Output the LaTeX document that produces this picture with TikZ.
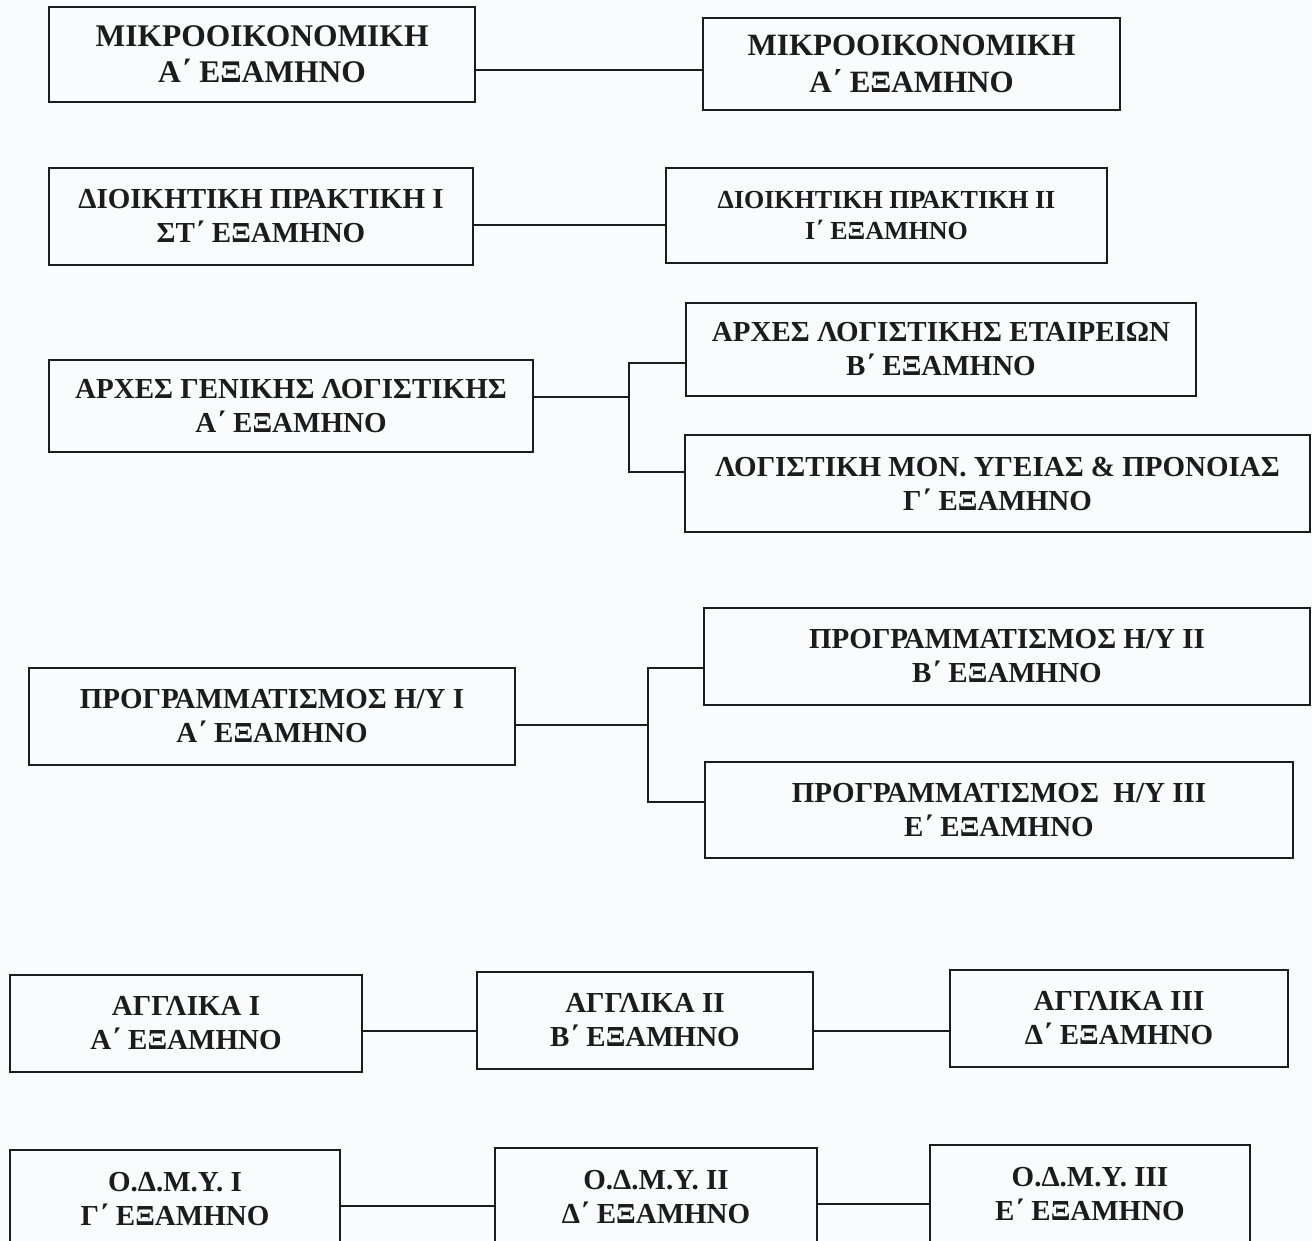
\documentclass[tikz,border=0pt]{standalone}
\usepackage{fontspec}
\setmainfont{Liberation Serif}
\definecolor{papel}{RGB}{250,251,252}
\definecolor{tinta}{RGB}{28,28,28}

\begin{document}
\begin{tikzpicture}[x=1pt, y=-1pt,
    caixa/.style={draw=tinta, line width=1.8pt, inner sep=0pt, align=center,
        text=tinta, font=\bfseries\fontsize{29}{34}\selectfont},
    ligacao/.style={draw=tinta, line width=1.8pt}]

    % Fundo e limites
    \fill[papel] (0,0) rectangle (1312,1241);
    \useasboundingbox (0,0) rectangle (1312,1241);
    \clip (0,0) rectangle (1312,1241);

    % Microeconomia
    \node[caixa, minimum width=426pt, minimum height=95pt, font=\bfseries\fontsize{31.5}{36}\selectfont] (mik1) at (262,54.5) {ΜΙΚΡΟΟΙΚΟΝΟΜΙΚΗ\\Α΄ ΕΞΑΜΗΝΟ};
    \node[caixa, minimum width=417pt, minimum height=92pt, font=\bfseries\fontsize{31}{37}\selectfont] (mik2) at (911.5,64) {ΜΙΚΡΟΟΙΚΟΝΟΜΙΚΗ\\Α΄ ΕΞΑΜΗΝΟ};
    \coordinate (m1) at ([yshift=-15.5pt]mik1.east);
    \draw[ligacao] (m1) -- (m1 -| mik2.west);

    % Pratica administrativa
    \node[caixa, minimum width=424pt, minimum height=97pt] (dio1) at (261,216.5) {ΔΙΟΙΚΗΤΙΚΗ ΠΡΑΚΤΙΚΗ Ι\\ΣΤ΄ ΕΞΑΜΗΝΟ};
    \node[caixa, minimum width=441pt, minimum height=95pt, font=\bfseries\fontsize{26}{31}\selectfont] (dio2) at (886.5,215.5) {ΔΙΟΙΚΗΤΙΚΗ ΠΡΑΚΤΙΚΗ ΙΙ\\Ι΄ ΕΞΑΜΗΝΟ};
    \coordinate (d1) at ([yshift=-8.5pt]dio1.east);
    \draw[ligacao] (d1) -- (d1 -| dio2.west);

    % Contabilidade
    \node[caixa, minimum width=484pt, minimum height=92pt] (gen) at (291,406) {ΑΡΧΕΣ ΓΕΝΙΚΗΣ ΛΟΓΙΣΤΙΚΗΣ\\Α΄ ΕΞΑΜΗΝΟ};
    \node[caixa, minimum width=510pt, minimum height=93pt] (ae) at (941,349.5) {ΑΡΧΕΣ ΛΟΓΙΣΤΙΚΗΣ ΕΤΑΙΡΕΙΩΝ\\Β΄ ΕΞΑΜΗΝΟ};
    \node[caixa, minimum width=625pt, minimum height=97pt] (ly) at (997.5,483.5) {ΛΟΓΙΣΤΙΚΗ ΜΟΝ. ΥΓΕΙΑΣ \& ΠΡΟΝΟΙΑΣ\\Γ΄ ΕΞΑΜΗΝΟ};
    \coordinate (g1) at ([yshift=9pt]gen.east);
    \coordinate (gfork) at ([xshift=95pt]g1);
    \draw[ligacao] (g1) -- (gfork);
    \draw[ligacao] ([yshift=-13.5pt]ae.west) -| (gfork) |- ([yshift=11.5pt]ly.west);

    % Programacao
    \node[caixa, minimum width=486pt, minimum height=97pt] (prog1) at (272,716.5) {ΠΡΟΓΡΑΜΜΑΤΙΣΜΟΣ Η/Υ Ι\\Α΄ ΕΞΑΜΗΝΟ};
    \node[caixa, minimum width=606pt, minimum height=97pt] (prog2) at (1007,656.5) {ΠΡΟΓΡΑΜΜΑΤΙΣΜΟΣ Η/Υ ΙΙ\\Β΄ ΕΞΑΜΗΝΟ};
    \node[caixa, minimum width=588pt, minimum height=96pt] (prog3) at (999,810) {ΠΡΟΓΡΑΜΜΑΤΙΣΜΟΣ\ \ Η/Υ ΙΙΙ\\Ε΄ ΕΞΑΜΗΝΟ};
    \coordinate (p1) at ([yshift=-8.5pt]prog1.east);
    \coordinate (pfork) at ([xshift=132pt]p1);
    \draw[ligacao] (p1) -- (pfork);
    \draw[ligacao] ([yshift=-11.5pt]prog2.west) -| (pfork) |- ([yshift=8pt]prog3.west);

    % Ingles
    \node[caixa, minimum width=352pt, minimum height=97pt] (ang1) at (186,1023.5) {ΑΓΓΛΙΚΑ Ι\\Α΄ ΕΞΑΜΗΝΟ};
    \node[caixa, minimum width=336pt, minimum height=97pt] (ang2) at (645,1020.5) {ΑΓΓΛΙΚΑ ΙΙ\\Β΄ ΕΞΑΜΗΝΟ};
    \node[caixa, minimum width=338pt, minimum height=97pt] (ang3) at (1119,1018.5) {ΑΓΓΛΙΚΑ ΙΙΙ\\Δ΄ ΕΞΑΜΗΝΟ};
    \coordinate (a1) at ([yshift=-7.5pt]ang1.east);
    \coordinate (a2) at ([yshift=-10.5pt]ang2.east);
    \draw[ligacao] (a1) -- (a1 -| ang2.west);
    \draw[ligacao] (a2) -- (a2 -| ang3.west);

    % O.D.M.Y.
    \node[caixa, minimum width=330pt, minimum height=98pt] (od1) at (175,1199) {Ο.Δ.Μ.Υ. Ι\\Γ΄ ΕΞΑΜΗΝΟ};
    \node[caixa, minimum width=322pt, minimum height=98pt] (od2) at (656,1197) {Ο.Δ.Μ.Υ. ΙΙ\\Δ΄ ΕΞΑΜΗΝΟ};
    \node[caixa, minimum width=320pt, minimum height=98pt] (od3) at (1090,1194) {Ο.Δ.Μ.Υ. ΙΙΙ\\Ε΄ ΕΞΑΜΗΝΟ};
    \coordinate (o1) at ([yshift=-7pt]od1.east);
    \coordinate (o2) at ([yshift=-7pt]od2.east);
    \draw[ligacao] (o1) -- (o1 -| od2.west);
    \draw[ligacao] (o2) -- (o2 -| od3.west);

\end{tikzpicture}
\end{document}
